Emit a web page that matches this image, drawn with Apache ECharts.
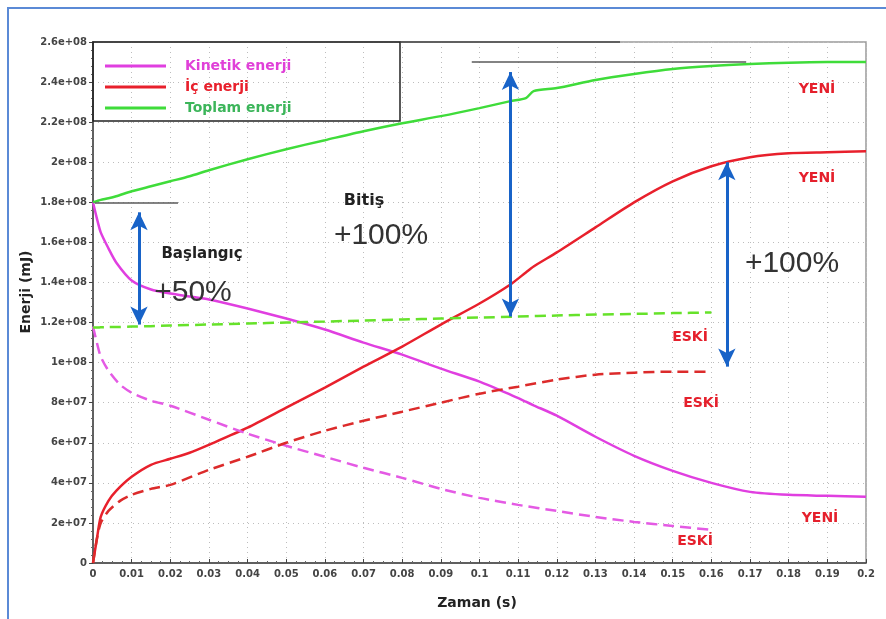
<!DOCTYPE html>
<html>
<head>
<meta charset="utf-8">
<script src="https://cdn.jsdelivr.net/npm/echarts@6/dist/echarts.min.js"></script>
<style>
html, body { margin: 0; padding: 0; background: #fff; }
#chart { width: 886px; height: 619px; }
</style>
</head>
<body>
<div id="chart"></div>
<script>
// degerler 1e8 mJ biriminde
var E8 = 1e8;

// YENI (0 - 0.2 s)
var yeniTime = [0, 0.001, 0.002, 0.004, 0.006, 0.01, 0.015, 0.02, 0.025, 0.03, 0.04, 0.05, 0.06, 0.07, 0.08, 0.09, 0.1, 0.108, 0.112, 0.114, 0.12, 0.13, 0.14, 0.15, 0.16, 0.17, 0.18, 0.19, 0.2];
var kinetikYeni = [1.80, 1.72, 1.65, 1.57, 1.50, 1.41, 1.365, 1.345, 1.33, 1.315, 1.27, 1.22, 1.165, 1.10, 1.04, 0.97, 0.905, 0.84, 0.805, 0.787, 0.735, 0.63, 0.535, 0.46, 0.40, 0.355, 0.34, 0.335, 0.33];
var icYeni = [0, 0.12, 0.23, 0.31, 0.36, 0.43, 0.49, 0.52, 0.55, 0.59, 0.675, 0.775, 0.875, 0.98, 1.08, 1.19, 1.295, 1.39, 1.45, 1.48, 1.55, 1.675, 1.80, 1.905, 1.98, 2.025, 2.045, 2.05, 2.055];
var toplamYeni = [1.80, 1.806, 1.812, 1.82, 1.83, 1.855, 1.88, 1.905, 1.93, 1.96, 2.015, 2.065, 2.11, 2.155, 2.195, 2.23, 2.27, 2.305, 2.32, 2.355, 2.37, 2.41, 2.44, 2.465, 2.48, 2.49, 2.497, 2.5, 2.5];

// ESKI (0 - 0.16 s)
var eskiTime = [0, 0.001, 0.002, 0.004, 0.007, 0.01, 0.015, 0.02, 0.03, 0.04, 0.05, 0.06, 0.07, 0.08, 0.09, 0.1, 0.11, 0.12, 0.13, 0.14, 0.15, 0.16];
var kinetikEski = [1.18, 1.10, 1.03, 0.96, 0.89, 0.85, 0.81, 0.785, 0.715, 0.645, 0.585, 0.53, 0.475, 0.425, 0.37, 0.325, 0.29, 0.26, 0.23, 0.205, 0.185, 0.165];
var icEski = [0, 0.12, 0.20, 0.26, 0.31, 0.34, 0.37, 0.39, 0.465, 0.53, 0.60, 0.66, 0.71, 0.755, 0.80, 0.845, 0.88, 0.915, 0.94, 0.95, 0.955, 0.955];
var toplamEski = [1.175, 1.175, 1.176, 1.177, 1.178, 1.18, 1.182, 1.185, 1.19, 1.195, 1.20, 1.205, 1.21, 1.215, 1.22, 1.225, 1.23, 1.235, 1.24, 1.243, 1.247, 1.25];

// eksen etiketleri
var xTickLabels = ['0', '0.01', '0.02', '0.03', '0.04', '0.05', '0.06', '0.07', '0.08', '0.09', '0.1', '0.11', '0.12', '0.13', '0.14', '0.15', '0.16', '0.17', '0.18', '0.19', '0.2'];
var yTickLabels = ['0', '2e+07', '4e+07', '6e+07', '8e+07', '1e+08', '1.2e+08', '1.4e+08', '1.6e+08', '1.8e+08', '2e+08', '2.2e+08', '2.4e+08', '2.6e+08'];

// mavi oklar (x, alt, ust)
var arrowX = [0.0119, 0.108, 0.164];
var arrowLow = [1.19, 1.23, 0.98];
var arrowHigh = [1.75, 2.45, 2.00];

// gri referans cizgileri (x1, x2, y)
var refX1 = [0.0005, 0.098];
var refX2 = [0.022, 0.169];
var refY = [1.80, 2.50];

var C_KIN = '#e03fe0', C_IC = '#e8202c', C_TOP = '#3fdc3a';
var C_KIN_D = '#e45ae4', C_IC_D = '#dc2b2b', C_TOP_D = '#66e22a';

function pairs(t, v) {
  return t.map(function (x, i) { return [x, v[i] * E8]; });
}

var myChart = echarts.init(document.getElementById('chart'));

var arrowData = arrowX.map(function (x, i) {
  return [{ coord: [x, arrowLow[i] * E8] }, { coord: [x, arrowHigh[i] * E8] }];
});
var refData = refX1.map(function (x, i) {
  return [{ coord: [x, refY[i] * E8] }, { coord: [refX2[i], refY[i] * E8] }];
});

function lineSeries(name, t, v, color, dashed) {
  return {
    name: name,
    type: 'line',
    data: pairs(t, v),
    showSymbol: false,
    smooth: 0.25,
    silent: true,
    z: 3,
    lineStyle: { color: color, width: 2.5, type: dashed ? [11, 6] : 'solid' },
    itemStyle: { color: color }
  };
}

var bold = 'DejaVu Sans';

myChart.setOption({
  animation: false,
  backgroundColor: '#fff',
  grid: {
    left: 93, right: 20, top: 42, bottom: 56,
    show: true, backgroundColor: '#fff', borderColor: '#9a9a9a', borderWidth: 1.5
  },
  legend: {
    data: [
      { name: 'Kinetik enerji', textStyle: { color: '#e040d8' } },
      { name: 'İç enerji', textStyle: { color: '#e8202c' } },
      { name: 'Toplam enerji', textStyle: { color: '#3cb55a' } }
    ],
    orient: 'vertical',
    left: 105, top: 58,
    itemWidth: 61, itemHeight: 3, itemGap: 5,
    icon: 'rect',
    selectedMode: false,
    padding: 0,
    textStyle: { fontFamily: bold, fontWeight: 'bold', fontSize: 14, lineHeight: 16, padding: [0, 0, 0, 14] }
  },
  xAxis: {
    type: 'value', min: 0, max: 0.2, interval: 0.01,
    axisLine: { show: true, onZero: false, lineStyle: { color: '#444', width: 1.5 } },
    axisTick: { show: true, inside: true, length: 4, lineStyle: { color: '#444' } },
    minorTick: { show: true, splitNumber: 4, length: 2, lineStyle: { color: '#666' } },
    axisLabel: {
      margin: 6, color: '#444', fontFamily: bold, fontWeight: 'bold', fontSize: 10,
      formatter: function (v) { return xTickLabels[Math.round(v / 0.01)]; }
    },
    splitLine: { show: true, lineStyle: { type: [1, 4], color: '#bdbdbd' } }
  },
  yAxis: {
    type: 'value', min: 0, max: 2.6e8, interval: 2e7,
    axisLine: { show: true, lineStyle: { color: '#444', width: 1.5 } },
    axisTick: { show: true, length: 4, lineStyle: { color: '#444' } },
    minorTick: { show: true, splitNumber: 5, length: 2, lineStyle: { color: '#666' } },
    axisLabel: {
      margin: 6, color: '#444', fontFamily: bold, fontWeight: 'bold', fontSize: 10,
      formatter: function (v) { return yTickLabels[Math.round(v / 2e7)]; }
    },
    splitLine: { show: true, lineStyle: { type: [1, 4], color: '#bdbdbd' } }
  },
  series: [
    lineSeries('Kinetik enerji', yeniTime, kinetikYeni, C_KIN, false),
    lineSeries('İç enerji', yeniTime, icYeni, C_IC, false),
    lineSeries('Toplam enerji', yeniTime, toplamYeni, C_TOP, false),
    lineSeries('Kinetik enerji ESKİ', eskiTime, kinetikEski, C_KIN_D, true),
    lineSeries('İç enerji ESKİ', eskiTime, icEski, C_IC_D, true),
    lineSeries('Toplam enerji ESKİ', eskiTime, toplamEski, C_TOP_D, true),
    {
      name: 'referans', type: 'line', data: [], silent: true,
      markLine: {
        silent: true, symbol: ['none', 'none'], label: { show: false },
        lineStyle: { color: '#5a5a5a', width: 1.5, type: 'solid' },
        data: refData
      }
    },
    {
      name: 'oklar', type: 'line', data: [], silent: true, z: 5,
      markLine: {
        silent: true, symbol: ['arrow', 'arrow'], symbolSize: [13, 18],
        label: { show: false },
        lineStyle: { color: '#1863c8', width: 3, type: 'solid' },
        data: arrowData
      }
    }
  ],
  graphic: [
    { type: 'rect', silent: true, z: 0, shape: { x: 8, y: 8, width: 900, height: 700 },
      style: { fill: 'none', stroke: '#5b8ad6', lineWidth: 2 } },
    { type: 'rect', silent: true, z: 10, shape: { x: 93, y: 42, width: 307, height: 79 },
      style: { fill: 'none', stroke: '#222', lineWidth: 1.5 } },
    { type: 'line', silent: true, z: 10, shape: { x1: 400, y1: 42, x2: 620, y2: 42 },
      style: { stroke: '#444', lineWidth: 1.5 } },
    { type: 'text', x: 26, y: 292, rotation: Math.PI / 2, silent: true,
      style: { text: 'Enerji (mJ)', fill: '#222', font: 'bold 14px "DejaVu Sans"', align: 'center', verticalAlign: 'middle' } },
    { type: 'text', x: 477, y: 603, silent: true,
      style: { text: 'Zaman (s)', fill: '#222', font: 'bold 14px "DejaVu Sans"', align: 'center', verticalAlign: 'middle' } },
    { type: 'text', x: 202, y: 254, silent: true, z: 10,
      style: { text: 'Başlangıç', fill: '#222', font: 'bold 15px "DejaVu Sans"', align: 'center', verticalAlign: 'middle' } },
    { type: 'text', x: 193, y: 293, silent: true, z: 10,
      style: { text: '+50%', fill: '#333', font: '30px "Liberation Sans"', align: 'center', verticalAlign: 'middle' } },
    { type: 'text', x: 364, y: 201, silent: true, z: 10,
      style: { text: 'Bitiş', fill: '#222', font: 'bold 16px "DejaVu Sans"', align: 'center', verticalAlign: 'middle' } },
    { type: 'text', x: 381, y: 236, silent: true, z: 10,
      style: { text: '+100%', fill: '#333', font: '30px "Liberation Sans"', align: 'center', verticalAlign: 'middle' } },
    { type: 'text', x: 792, y: 264, silent: true, z: 10,
      style: { text: '+100%', fill: '#333', font: '30px "Liberation Sans"', align: 'center', verticalAlign: 'middle' } },
    { type: 'text', x: 817, y: 89, silent: true, z: 10,
      style: { text: 'YENİ', fill: '#e5202c', font: 'bold 14px "DejaVu Sans"', align: 'center', verticalAlign: 'middle' } },
    { type: 'text', x: 817, y: 178, silent: true, z: 10,
      style: { text: 'YENİ', fill: '#e5202c', font: 'bold 14px "DejaVu Sans"', align: 'center', verticalAlign: 'middle' } },
    { type: 'text', x: 820, y: 518, silent: true, z: 10,
      style: { text: 'YENİ', fill: '#e5202c', font: 'bold 14px "DejaVu Sans"', align: 'center', verticalAlign: 'middle' } },
    { type: 'text', x: 690, y: 337, silent: true, z: 10,
      style: { text: 'ESKİ', fill: '#e5202c', font: 'bold 14px "DejaVu Sans"', align: 'center', verticalAlign: 'middle' } },
    { type: 'text', x: 701, y: 403, silent: true, z: 10,
      style: { text: 'ESKİ', fill: '#e5202c', font: 'bold 14px "DejaVu Sans"', align: 'center', verticalAlign: 'middle' } },
    { type: 'text', x: 695, y: 541, silent: true, z: 10,
      style: { text: 'ESKİ', fill: '#e5202c', font: 'bold 14px "DejaVu Sans"', align: 'center', verticalAlign: 'middle' } }
  ]
});
</script>
</body>
</html>
